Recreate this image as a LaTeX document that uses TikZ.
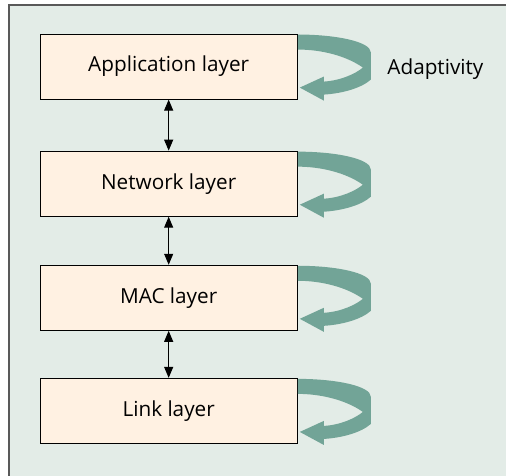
\documentclass[tikz,border=0pt]{standalone}
\usepackage{fontspec}
\setmainfont{Open Sans}
\usetikzlibrary{arrows.meta}
\definecolor{bg}{RGB}{227,236,231}
\definecolor{boxfill}{RGB}{255,241,226}
\definecolor{adaptcol}{RGB}{114,164,151}
\begin{document}
\begin{tikzpicture}[x=1pt,y=-1pt,
 layerbox/.style={draw=black, line width=1pt, fill=boxfill, minimum width=257pt, minimum height=65pt, inner sep=0pt, font=\fontsize{20.7}{24}\selectfont},
 txt/.style={font=\fontsize{20.7}{24}\selectfont, inner sep=0pt},
 linkarrow/.style={{Triangle[length=11pt,width=9pt]}-{Triangle[length=11pt,width=9pt]}, line width=1pt},
 loopband/.style={fill=adaptcol, draw=none}]
\useasboundingbox (0,0) rectangle (505.5,475.5);
\fill[white] (-5,-5) rectangle (511,481);
\fill[bg] (9,5) rectangle (511,481);
\draw[line width=1.5pt, draw=black!65] (9,481) -- (9,5) -- (511,5);
\node[layerbox] (app) at (168.5,66.5) {Application layer};
\node[layerbox] (net) at (168.5,183.5) {Network layer};
\node[layerbox] (mac) at (168.5,297.5) {MAC layer};
\node[layerbox] (lnk) at (168.5,410.5) {Link layer};
\node[txt] (adapt) at (435,69) {Adaptivity};
\draw[linkarrow] (app) -- (net);
\draw[linkarrow] (net) -- (mac);
\draw[linkarrow] (mac) -- (lnk);
\foreach \b in {app,net,mac,lnk}{
\fill[loopband, shift={(\b.north east)}] (0,1) .. controls (38,1) and (73,8) .. (73,19) -- (73,46) .. controls (63,55) and (43,60) .. (26,61) -- (26,67) -- (2,54) -- (26,43) -- (26,48) .. controls (43,47) and (58,40) .. (65,34) .. controls (48,22) and (23,16) .. (0,16) -- cycle;
}
\end{tikzpicture}
\end{document}
